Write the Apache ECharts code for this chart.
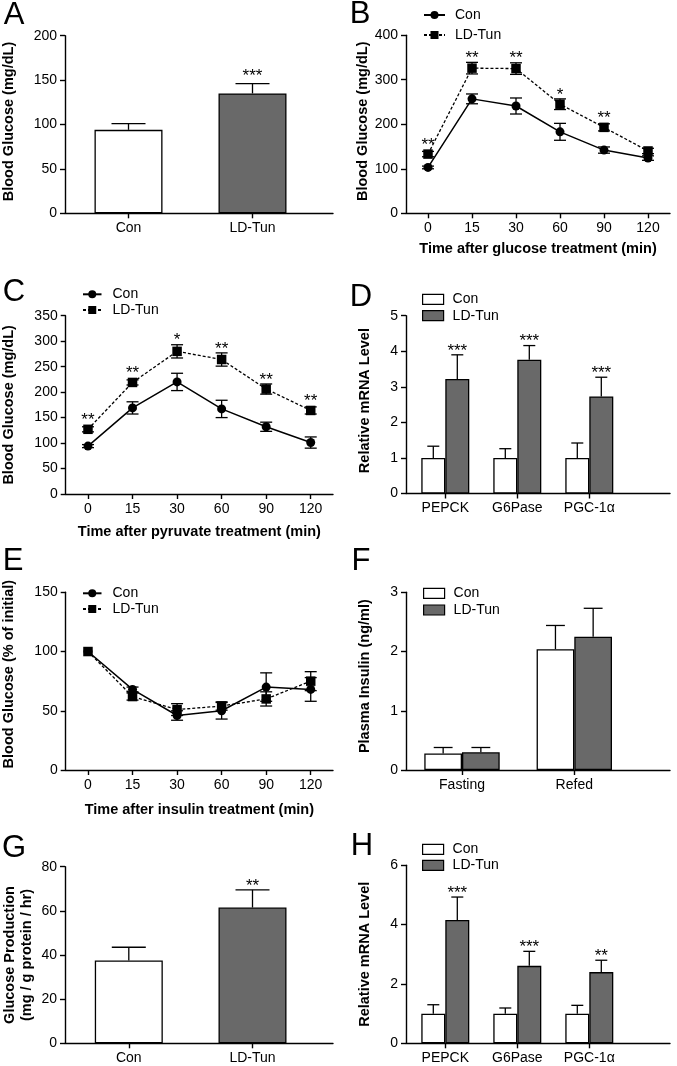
<!DOCTYPE html>
<html><head><meta charset="utf-8">
<script src="https://cdn.jsdelivr.net/npm/echarts@6/dist/echarts.min.js"></script>
<style>html,body{margin:0;padding:0;background:#fff}#c{width:677px;height:1066px}</style>
</head><body><div id="c"></div>
<script>
// ---------- data ----------
const timeCats = ['0', '15', '30', '60', '90', '120'];
const groupCats = ['Con', 'LD-Tun'];
const geneCats = ['PEPCK', 'G6Pase', 'PGC-1\u03b1'];
const insulinCats = ['Fasting', 'Refed'];

// A: fasting blood glucose
const aMean = [94, 135];
const aErr = [7, 11];
const aStars = ['', '***'];
// B: GTT
const bCon = [103, 257, 241, 183, 142, 124];
const bConErr = [3, 11, 18, 19, 7, 5];
const bLD = [133, 326, 325, 245, 193, 140];
const bLDErr = [6, 13, 13, 12, 8, 6];
const bStars = ['**', '**', '**', '*', '**', ''];
// C: PTT
const cCon = [94, 169, 220, 167, 132, 101];
const cConErr = [3, 12, 17, 17, 9, 11];
const cLD = [127, 219, 280, 264, 206, 164];
const cLDErr = [5, 5, 13, 13, 10, 7];
const cStars = ['**', '**', '*', '**', '**', '**'];
// D: liver mRNA
const dCon = [1, 1, 1];
const dConErr = [0.33, 0.26, 0.42];
const dLD = [3.22, 3.76, 2.73];
const dLDErr = [0.68, 0.4, 0.54];
const dStars = ['***', '***', '***'];
// E: ITT
const eCon = [100, 68, 46, 50, 70, 68];
const eConErr = [0, 2, 4, 7, 12, 10];
const eLD = [100, 62, 51, 54, 60, 75];
const eLDErr = [0, 3, 5, 3.5, 6, 8];
// F: plasma insulin
const fCon = [0.28, 2.04];
const fConErr = [0.1, 0.4];
const fLD = [0.3, 2.25];
const fLDErr = [0.08, 0.48];
// G: glucose production
const gMean = [37.5, 61.5];
const gErr = [6, 8];
const gStars = ['', '**'];
// H: mRNA
const hCon = [1, 1, 1];
const hConErr = [0.3, 0.19, 0.28];
const hLD = [4.16, 2.61, 2.4];
const hLDErr = [0.77, 0.49, 0.4];
const hStars = ['***', '***', '**'];

// ---------- style / layout ----------
const FONT = '"Liberation Sans", Arial, Helvetica, sans-serif';
const GRAY = '#696969';
const grids = [], xAxes = [], yAxes = [], series = [], legends = [], graphics = [];

function axisBase() {
  return {
    axisLine: { show: true, onZero: false, lineStyle: { color: '#000', width: 1.4 } },
    axisTick: { show: true, length: 5, lineStyle: { color: '#000', width: 1.4 } },
    axisLabel: { color: '#000', fontSize: 14, fontFamily: FONT, margin: 8 },
    splitLine: { show: false }
  };
}
const titleStyle = { fontSize: 14.5, fontWeight: 'bold', fontFamily: FONT, color: '#000' };

function addGrid(p) {
  const gi = grids.length;
  grids.push({ left: p.x0, top: p.y0, width: p.x1 - p.x0, height: p.y1 - p.y0 });
  yAxes.push(Object.assign(axisBase(), {
    type: 'value', gridIndex: gi, min: 0, max: p.ymax, interval: p.yint,
    name: p.yname, nameLocation: 'middle', nameRotate: 90, nameGap: p.ygap,
    nameTextStyle: Object.assign({}, titleStyle, p.ylh ? { lineHeight: p.ylh } : {},
      p.yshift ? { padding: [0, 0, 0, p.yshift] } : {})
  }));
  if (p.cats) { // value axis with category labels at custom positions
    const idx = p.cats.map((c, i) => i);
    const ax = axisBase();
    ax.axisTick.customValues = idx;
    ax.axisLabel.customValues = idx;
    ax.axisLabel.formatter = v => p.cats[Math.round(v)];
    xAxes.push(Object.assign(ax, {
      type: 'value', gridIndex: gi,
      min: -p.off / p.unit, max: (p.x1 - p.x0 - p.off) / p.unit
    }));
  } else {
    const ax = axisBase();
    ax.axisTick.alignWithLabel = true;
    xAxes.push(Object.assign(ax, {
      type: 'category', gridIndex: gi, data: timeCats, boundaryGap: true,
      name: p.xname, nameLocation: 'middle', nameGap: p.xgap, nameTextStyle: titleStyle
    }));
  }
  graphics.push({ type: 'text', x: p.lx, y: p.ly,
    style: { text: p.letter, fontSize: 31, fontFamily: FONT, fill: '#000', align: 'center', verticalAlign: 'middle' } });
  return gi;
}

function errBars(gi, means, errs, o) {
  series.push({
    type: 'custom', xAxisIndex: gi, yAxisIndex: gi, z: o.z || 4, silent: true,
    data: means.map((m, i) => [i, m, errs[i], i]),
    encode: { x: 0, y: 1 },
    renderItem(params, api) {
      const xv = api.value(0), m = api.value(1), e = api.value(2), i = api.value(3);
      const pm = api.coord([xv, m]), pt = api.coord([xv, m + e]), pb = api.coord([xv, m - e]);
      const x = pm[0] + (o.dx || 0), h = o.cap / 2;
      const st = { stroke: '#000', lineWidth: 1.3 };
      const ch = [];
      if (e > 0) {
        ch.push({ type: 'line', shape: { x1: x, y1: o.both ? pb[1] : pm[1], x2: x, y2: pt[1] }, style: st });
        ch.push({ type: 'line', shape: { x1: x - h, y1: pt[1], x2: x + h, y2: pt[1] }, style: st });
        if (o.both) ch.push({ type: 'line', shape: { x1: x - h, y1: pb[1], x2: x + h, y2: pb[1] }, style: st });
      }
      const s = o.stars ? o.stars[i] : '';
      if (s) {
        const topY = Math.min(pt[1], pm[1] - (o.half || 0));
        ch.push({ type: 'text', x: x, y: topY - o.starGap,
          style: { text: s, fontSize: 17, fontFamily: FONT, fill: '#000', align: 'center', verticalAlign: 'middle' } });
      }
      return { type: 'group', children: ch };
    }
  });
}

function linePanel(p, con, conErr, ld, ldErr, stars) {
  const gi = addGrid(p);
  errBars(gi, con, conErr, { both: true, cap: 12, z: 2 });
  errBars(gi, ld, ldErr, { both: true, cap: 12, z: 2, stars: stars, half: 5, starGap: 4 });
  series.push({ type: 'line', name: 'Con', xAxisIndex: gi, yAxisIndex: gi, data: con, z: 3,
    symbol: 'circle', symbolSize: 9, itemStyle: { color: '#000' },
    lineStyle: { color: '#000', width: 1.5 } });
  series.push({ type: 'line', name: 'LD-Tun', xAxisIndex: gi, yAxisIndex: gi, data: ld, z: 3,
    symbol: 'rect', symbolSize: 9.5, itemStyle: { color: '#000' },
    lineStyle: { color: '#000', width: 1.3, type: [3, 2] } });
  legends.push({ orient: 'vertical', left: p.legX, top: p.legY, itemGap: p.legGap, padding: 0,
    itemWidth: p.legW, itemHeight: 10, selectedMode: false, data: ['Con', 'LD-Tun'],
    textStyle: { fontSize: 14, fontFamily: FONT, color: '#000', padding: [0, 0, 0, p.legPad] } });
}

function singleBarPanel(p, mean, err, stars) {
  const gi = addGrid(p);
  const fills = ['#ffffff', GRAY];
  series.push({ type: 'bar', name: 'single' + gi, xAxisIndex: gi, yAxisIndex: gi, barWidth: p.bw, z: 2,
    itemStyle: { borderColor: '#000', borderWidth: 1.3 },
    data: mean.map((m, i) => ({ value: [i, m], itemStyle: { color: fills[i] } })) });
  errBars(gi, mean, err, { cap: p.bw / 2, stars: stars, starGap: p.starGap || 4 });
}

function groupBarPanel(p, con, conErr, ld, ldErr, stars) {
  const gi = addGrid(p);
  series.push({ type: 'bar', name: 'Con#b', xAxisIndex: gi, yAxisIndex: gi, barWidth: p.bw, barGap: '0%', z: 2,
    itemStyle: { color: '#ffffff', borderColor: '#000', borderWidth: 1.3 },
    data: con.map((m, i) => [i, m]) });
  series.push({ type: 'bar', name: 'LD-Tun#b', xAxisIndex: gi, yAxisIndex: gi, barWidth: p.bw, barGap: '0%', z: 2,
    itemStyle: { color: GRAY, borderColor: '#000', borderWidth: 1.3 },
    data: ld.map((m, i) => [i, m]) });
  errBars(gi, con, conErr, { cap: p.bw / 2, dx: -p.bw / 2 });
  errBars(gi, ld, ldErr, { cap: p.bw / 2, dx: p.bw / 2, stars: stars, starGap: 4 });
  legends.push({ orient: 'vertical', left: p.legX, top: p.legY, itemGap: p.legGap, padding: 0,
    itemWidth: 21, itemHeight: 10, icon: 'rect', selectedMode: false, data: ['Con#b', 'LD-Tun#b'],
    formatter: n => n.split('#')[0],
    itemStyle: { borderColor: '#000', borderWidth: 1.2 },
    textStyle: { fontSize: 14, fontFamily: FONT, color: '#000', padding: [0, 0, 0, 4] } });
}

singleBarPanel({ letter: 'A', lx: 14, ly: 15, x0: 65, x1: 333, y0: 35.7, y1: 213.3, ymax: 200, yint: 50,
  yname: 'Blood Glucose (mg/dL)', ygap: 49, yshift: 6, cats: groupCats, off: 63.5, unit: 124, bw: 68, starGap: 7 },
  aMean, aErr, aStars);

linePanel({ letter: 'B', lx: 360, ly: 14, x0: 406, x1: 670, y0: 35.2, y1: 213.3, ymax: 400, yint: 100,
  yname: 'Blood Glucose (mg/dL)', ygap: 34, yshift: 6, xname: 'Time after glucose treatment (min)', xgap: 28,
  legX: 423, legY: 8, legGap: 6, legW: 21, legPad: 5 }, bCon, bConErr, bLD, bLDErr, bStars);

linePanel({ letter: 'C', lx: 14, ly: 292, x0: 65.7, x1: 333, y0: 315.7, y1: 494, ymax: 350, yint: 50,
  yname: 'Blood Glucose (mg/dL)', ygap: 49.5, xname: 'Time after pyruvate treatment (min)', xgap: 30,
  legX: 82, legY: 287.3, legGap: 1.7, legW: 18.5, legPad: 6 }, cCon, cConErr, cLD, cLDErr, cStars);

groupBarPanel({ letter: 'D', lx: 361, ly: 297, x0: 406, x1: 670, y0: 315.7, y1: 493.5, ymax: 5, yint: 1,
  yname: 'Relative mRNA Level', ygap: 34, yshift: 8, cats: geneCats, off: 39.3, unit: 72, bw: 24,
  legX: 422, legY: 292.3, legGap: 2.4 }, dCon, dConErr, dLD, dLDErr, dStars);

linePanel({ letter: 'E', lx: 13, ly: 561, x0: 65.7, x1: 333, y0: 592.3, y1: 770, ymax: 150, yint: 50,
  yname: 'Blood Glucose (% of initial)', ygap: 49.5, yshift: 14, xname: 'Time after insulin treatment (min)', xgap: 32,
  legX: 82, legY: 586.3, legGap: 1.7, legW: 18.5, legPad: 6 }, eCon, eConErr, eLD, eLDErr, null);

groupBarPanel({ letter: 'F', lx: 361, ly: 561, x0: 406, x1: 670, y0: 592.3, y1: 770, ymax: 3, yint: 1,
  yname: 'Plasma Insulin (ng/ml)', ygap: 34, yshift: 10, cats: insulinCats, off: 56, unit: 112.3, bw: 37.7,
  legX: 423, legY: 586.3, legGap: 2.7 }, fCon, fConErr, fLD, fLDErr, null);

singleBarPanel({ letter: 'G', lx: 14, ly: 848, x0: 65, x1: 333, y0: 866.7, y1: 1043.3, ymax: 80, yint: 20,
  yname: 'Glucose Production\n(mg / g protein / hr)', ygap: 29, ylh: 17.5,
  cats: groupCats, off: 63.8, unit: 123.7, bw: 68 }, gMean, gErr, gStars);

groupBarPanel({ letter: 'H', lx: 362, ly: 846, x0: 406, x1: 670, y0: 865.3, y1: 1043.3, ymax: 6, yint: 2,
  yname: 'Relative mRNA Level', ygap: 34, cats: geneCats, off: 39.3, unit: 72, bw: 24,
  legX: 422, legY: 842.3, legGap: 2 }, hCon, hConErr, hLD, hLDErr, hStars);

const chart = echarts.init(document.getElementById('c'), null, { renderer: 'canvas' });
chart.setOption({
  animation: false,
  backgroundColor: '#ffffff',
  textStyle: { fontFamily: FONT },
  grid: grids, xAxis: xAxes, yAxis: yAxes, legend: legends, series: series,
  graphic: graphics
});
</script></body></html>
